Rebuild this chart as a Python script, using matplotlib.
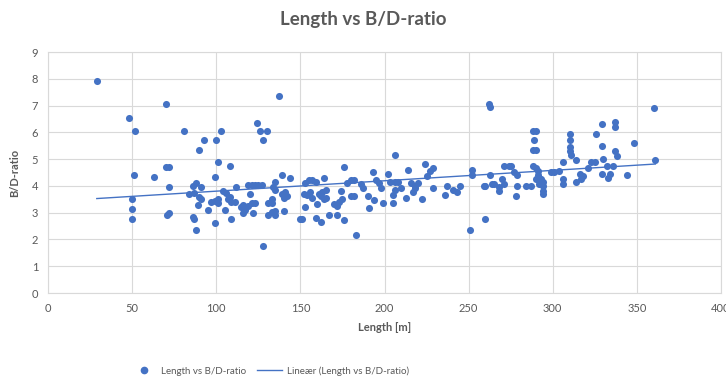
import numpy as np
import matplotlib
matplotlib.use('Agg')
import matplotlib.pyplot as plt
from matplotlib.lines import Line2D

plt.rcParams['font.family'] = ['Lato', 'DejaVu Sans']

# skip length [m] and beam/depth ratio
length = [
    29, 70, 48, 52, 81, 103, 93, 100, 90, 124, 126, 130, 128, 101, 108, 70, 72,
    51, 63, 99, 72, 50, 50, 50, 71, 72, 86, 87, 88, 99, 128, 86, 88, 91, 84,
    87, 90, 91, 89, 95, 97, 99, 101, 101, 104, 105, 106, 108, 107, 109, 111,
    109, 112, 115, 116, 116, 117, 119, 121, 122, 123, 120, 119, 121, 123, 125,
    127, 131, 131, 137.5, 135, 139, 144, 134, 135, 139, 141, 142, 140, 133,
    133, 135, 133, 135, 140, 150, 151, 153, 153, 155, 157, 159, 164, 165, 163,
    152, 156, 154, 157, 161, 162, 165, 164, 160, 159, 162, 167, 172, 170, 172,
    176, 173, 175, 174, 178, 180, 182, 176, 180, 182, 183, 186, 187, 190, 191,
    194, 193, 195, 197, 198, 199, 202, 203, 206, 206, 205, 205, 206, 208, 210,
    213, 214, 216, 217, 218, 218, 220, 222, 224, 225, 227, 229, 229, 236, 237,
    243, 245, 241, 251, 252, 252, 259, 260, 260, 262, 263, 278, 263, 264, 265,
    268, 268, 270, 271, 271, 274, 275, 277, 279, 279, 284, 287, 288, 290, 289,
    288, 290, 288, 290, 291, 291, 292, 293, 294, 294, 294, 294, 292, 290, 299,
    301, 304, 306, 306, 306, 310, 310, 310, 310, 311, 314, 314, 316, 317, 318,
    321, 323, 325, 326, 329, 329, 329, 330, 332, 333, 334, 336, 337, 337, 337,
    338, 344, 348, 360, 361,
]
bd_ratio = [
    7.9, 7.05, 6.55, 6.05, 6.05, 6.05, 5.7, 5.7, 5.35, 6.35, 6.05, 6.05, 5.7,
    4.9, 4.75, 4.7, 4.7, 4.4, 4.35, 4.35, 3.95, 3.5, 3.15, 2.75, 2.9, 3.0,
    2.85, 2.75, 2.35, 2.6, 1.75, 4.0, 4.1, 3.95, 3.7, 3.75, 3.6, 3.5, 3.3,
    3.1, 3.4, 3.45, 3.5, 3.35, 3.8, 3.1, 3.75, 3.6, 3.5, 3.4, 3.4, 2.75, 3.95,
    3.2, 3.3, 3.0, 3.1, 3.25, 3.35, 3.0, 3.35, 3.7, 4.05, 4.05, 4.05, 4.05,
    4.05, 3.35, 2.9, 7.35, 4.16, 4.41, 4.31, 3.96, 3.86, 3.71, 3.76, 3.61,
    3.56, 3.51, 3.36, 2.91, 3.01, 3.06, 3.06, 2.76, 2.76, 3.21, 4.11, 4.21,
    4.21, 4.16, 4.31, 3.86, 3.76, 3.71, 3.76, 3.66, 3.56, 3.71, 3.61, 3.56,
    3.51, 3.31, 2.81, 2.66, 2.91, 3.26, 3.31, 2.91, 2.71, 3.41, 3.51, 3.81,
    4.11, 4.21, 4.21, 4.71, 3.61, 3.61, 2.17, 4.06, 3.91, 3.61, 3.16, 3.46,
    4.51, 4.21, 4.11, 3.91, 3.36, 4.46, 4.16, 4.16, 5.16, 3.66, 3.36, 3.86,
    4.16, 3.91, 3.56, 4.61, 4.11, 3.76, 3.91, 4.01, 4.11, 3.51, 4.81, 4.36,
    4.56, 3.91, 4.66, 3.66, 4.01, 3.76, 4.01, 3.86, 2.37, 4.61, 4.41, 4.01,
    4.01, 2.76, 7.05, 4.41, 3.61, 6.95, 4.06, 4.06, 3.96, 3.81, 4.26, 4.06,
    4.76, 4.76, 4.76, 4.51, 4.41, 4.01, 4.01, 4.01, 6.05, 6.05, 5.7, 5.35,
    5.35, 4.76, 4.66, 4.56, 4.41, 4.31, 4.26, 4.16, 4.01, 3.81, 3.71, 4.06,
    4.26, 4.51, 4.51, 4.56, 4.91, 4.26, 4.06, 5.95, 5.7, 5.45, 5.3, 5.16,
    4.96, 4.16, 4.46, 4.26, 4.36, 4.66, 4.91, 4.91, 5.95, 4.46, 5.5, 6.3,
    5.0, 4.76, 4.31, 4.46, 4.76, 6.4, 6.2, 5.3, 5.1, 4.41, 5.6, 6.9, 4.96,
]

BLUE = '#4472C4'
TXT = '#595959'
GRID = '#D9D9D9'

fig = plt.figure(figsize=(7.26, 3.83), dpi=100)
ax = fig.add_axes([48 / 726, 1 - 293 / 383, 673 / 726, 241 / 383])

ax.scatter(length, bd_ratio, s=26, color=BLUE, zorder=3, linewidths=0)

# linear trendline over the data range
x = np.array(length, dtype=float)
y = np.array(bd_ratio, dtype=float)
k, m = np.polyfit(x, y, 1)
xs = np.array([x.min(), x.max()])
ax.plot(xs, k * xs + m, color=BLUE, lw=1.0, zorder=2)

ax.set_xlim(0, 400)
ax.set_ylim(0, 9)
ax.set_xticks(range(0, 401, 50))
ax.set_yticks(range(0, 10))
ax.grid(True, color=GRID, lw=0.8, zorder=0)
ax.set_axisbelow(True)
for s in ax.spines.values():
    s.set_color(GRID)
    s.set_linewidth(0.8)
ax.tick_params(length=0, labelsize=8, colors=TXT, pad=7)

ax.set_xlabel('Length [m]', fontsize=8, fontweight='bold', color=TXT, labelpad=6)
ax.set_ylabel('B/D-ratio', fontsize=8, fontweight='bold', color=TXT, labelpad=8)
fig.text(0.5, 1 - 20 / 383, 'Length vs B/D-ratio', ha='center', va='center',
         fontsize=13.5, fontweight='bold', color=TXT)

handles = [
    Line2D([], [], marker='o', ls='none', color=BLUE, markersize=4.5),
    Line2D([], [], color=BLUE, lw=1.0),
]
fig.legend(handles, ['Length vs B/D-ratio', 'Lineær (Length vs B/D-ratio)'],
           loc='center', bbox_to_anchor=(0.372, 1 - 371 / 383), ncol=2,
           frameon=False, fontsize=7, labelcolor=TXT, handlelength=2.6,
           columnspacing=1.1, handletextpad=0.5)

fig.savefig('out.png', dpi=100)
